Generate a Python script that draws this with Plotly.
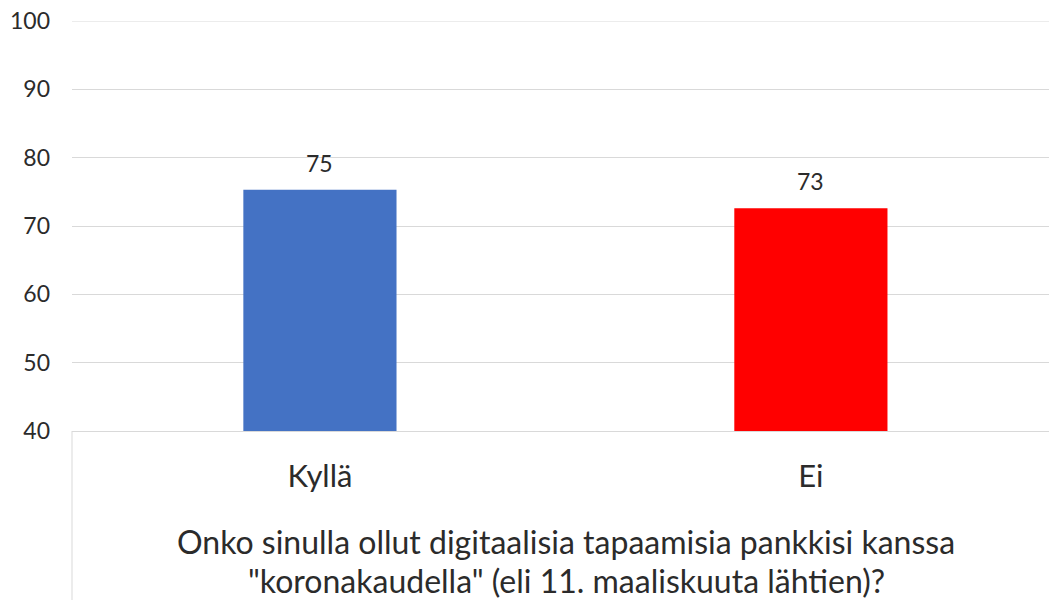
import plotly.graph_objects as go

categories = ["Kyllä", "Ei"]
values = [75.3, 72.6]
colors = ["#4472C4", "#FF0000"]
y_ticks = [40, 50, 60, 70, 80, 90, 100]
title_lines = [
    "Onko sinulla ollut digitaalisia tapaamisia pankkisi kanssa",
    "\"koronakaudella\" (eli 11. maaliskuuta lähtien)?",
]

FONT = "Lato"
TXT = "#2b2b2b"
W, H = 1049, 600
ML, MR, MT, MB = 72, 0, 21, 169
plot_h = H - MT - MB

fig = go.Figure()
xs = list(range(len(categories)))
fig.add_trace(go.Bar(
    x=xs, y=values, marker=dict(color=colors, line=dict(width=0)),
    width=0.312, hoverinfo="skip",
))

for i, v in zip(xs, values):
    fig.add_annotation(x=i, y=v, text=f"{v:.0f}", showarrow=False,
                       yanchor="bottom", yshift=11,
                       font=dict(family=FONT, size=23, color=TXT))

def paper_y(px):
    return (H - MB - px) / plot_h

title_x = (566 - ML) / (W - ML - MR)
for line, py in zip(title_lines, [541, 580]):
    fig.add_annotation(xref="paper", yref="paper", x=title_x, y=paper_y(py),
                       text=line, showarrow=False, yanchor="middle", xanchor="center",
                       font=dict(family=FONT, size=32, color=TXT))

fig.add_shape(type="line", xref="paper", yref="paper", x0=0, x1=0,
              y0=0, y1=paper_y(H), line=dict(color="#d9d9d9", width=1))
fig.add_shape(type="line", xref="paper", yref="y", x0=0, x1=1,
              y0=y_ticks[-1], y1=y_ticks[-1], line=dict(color="#d9d9d9", width=1),
              layer="below")

fig.update_layout(
    width=W, height=H,
    margin=dict(l=ML, r=MR, t=MT, b=MB),
    plot_bgcolor="white", paper_bgcolor="white",
    showlegend=False,
    xaxis=dict(range=[-0.505, 1.485], tickvals=xs, ticktext=categories,
               showgrid=False, zeroline=False, showline=True,
               linecolor="#d9d9d9", linewidth=1, ticks="",
               ticklabelstandoff=18,
               tickfont=dict(family=FONT, size=31, color=TXT), fixedrange=True),
    yaxis=dict(range=[40, 100], tickvals=y_ticks, showgrid=True,
               gridcolor="#d9d9d9", gridwidth=1, zeroline=False,
               showline=False, ticks="", ticklabelstandoff=21,
               tickfont=dict(family=FONT, size=23, color=TXT), fixedrange=True),
)

fig.write_html("out.html")
